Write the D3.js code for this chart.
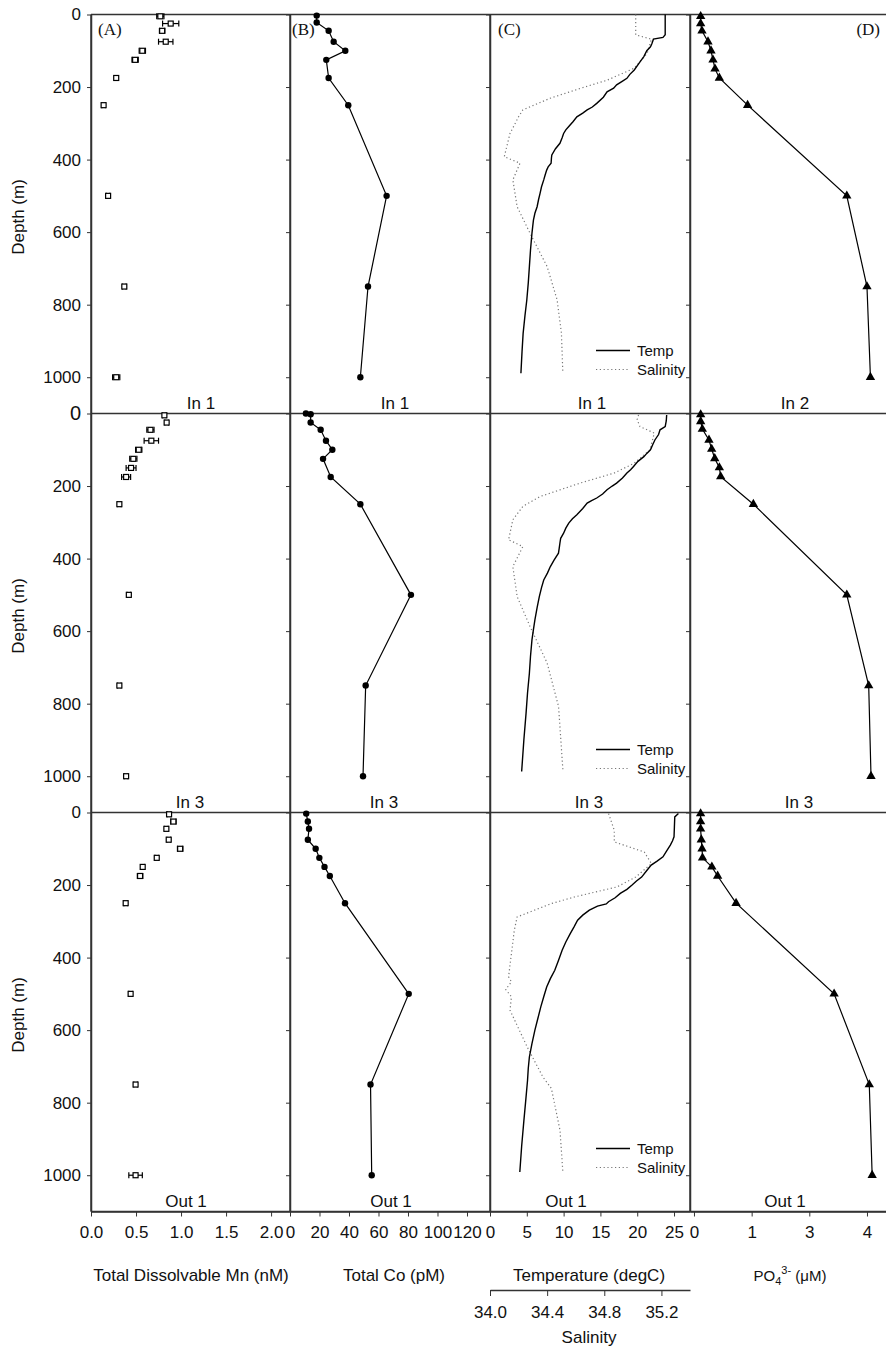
<!DOCTYPE html>
<html><head><meta charset="utf-8">
<script src="https://cdn.jsdelivr.net/npm/d3@7"></script>
<style>
html,body{margin:0;padding:0;background:#fff;}
svg text{font-family:"Liberation Sans",Arial,sans-serif;fill:#111;}
</style></head>
<body><svg id="c" width="886" height="1351"></svg>
<script>
// ---------------- DATA ----------------
const depthTicks = [0, 200, 400, 600, 800, 1000];
const mnTicks = [0, 0.5, 1.0, 1.5, 2.0];
const coTicks = [0, 20, 40, 60, 80, 100, 120];
const tempTicks = [0, 5, 10, 15, 20, 25];
const salTicks = [34.0, 34.4, 34.8, 35.2];
const po4TickPos = [0, 1, 2, 3];
const po4TickLabels = ["0", "1", "3", "4"];
const panelLetters = ["(A)", "(B)", "(C)", "(D)"];
const stationLabels = [
  ["In 1", "In 1", "In 1", "In 2"],
  ["In 3", "In 3", "In 3", "In 3"],
  ["Out 1", "Out 1", "Out 1", "Out 1"]
];
const xTitles = ["Total Dissolvable Mn (nM)", "Total Co (pM)", "Temperature (degC)"];
const legendLabels = ["Temp", "Salinity"];

// Panel A: Total dissolvable Mn (nM), value and +/- error
const mnDepth1 = [5, 25, 45, 75, 100, 125, 175, 250, 500, 750, 1000];
const mnIn1    = [0.77, 0.885, 0.79, 0.83, 0.57, 0.49, 0.28, 0.14, 0.19, 0.37, 0.28];
const mnErrIn1 = [0.04, 0.09, 0.03, 0.08, 0.035, 0.035, 0.02, 0.02, 0.02, 0.02, 0.04];
const mnDepth2 = [5, 25, 45, 75, 100, 125, 150, 175, 250, 500, 750, 1000];
const mnIn3    = [0.815, 0.84, 0.66, 0.67, 0.53, 0.47, 0.445, 0.39, 0.315, 0.42, 0.315, 0.39];
const mnErrIn3 = [0.02, 0.02, 0.04, 0.08, 0.035, 0.04, 0.055, 0.05, 0.02, 0.02, 0.02, 0.02];
const mnDepth3 = [5, 25, 45, 75, 100, 125, 150, 175, 250, 500, 750, 1000];
const mnOut1   = [0.867, 0.915, 0.837, 0.863, 0.99, 0.73, 0.574, 0.545, 0.385, 0.44, 0.495, 0.495];
const mnErrOut1= [0.02, 0.03, 0.02, 0.02, 0.03, 0.02, 0.02, 0.03, 0.02, 0.02, 0.02, 0.075];

// Panel B: Total Co (pM)
const coDepth1 = [3, 22, 45, 75, 100, 125, 175, 250, 500, 750, 1000];
const coIn1    = [18.1, 18.1, 26.2, 29.6, 37.5, 24.6, 26.2, 39.5, 65.5, 52.9, 47.7];
const coDepth2 = [0, 2, 25, 45, 75, 100, 125, 175, 250, 500, 750, 1000];
const coIn3    = [10.8, 14.0, 14.0, 20.8, 24.4, 28.7, 22.4, 27.6, 47.7, 82, 51.3, 49.5];
const coDepth3 = [3, 25, 45, 75, 100, 125, 150, 175, 250, 500, 750, 1000];
const coOut1   = [11, 12.1, 12.9, 12.1, 17.4, 19.9, 23.4, 27, 37.3, 80.5, 54.6, 55.4];

// Panel C: CTD temperature (degC) and salinity profiles, [depth, value]
const tempIn1 = [[0,23.8],[56,23.8],[63,23.5],[68,22.2],[80,22.0],[89,21.8],[100,21.3],[116,20.9],[130,20.4],[153,19.6],[165,19.0],[176,18.6],[185,17.9],[194,17.2],[203,16.8],[213,15.9],[228,15.4],[245,14.5],[255,13.9],[263,13.2],[272,12.6],[282,11.8],[295,11.3],[309,10.7],[318,10.3],[328,10.0],[340,9.8],[355,9.5],[370,8.9],[387,8.4],[395,8.35],[410,8.3],[420,7.9],[429,7.7],[442,7.5],[456,7.3],[475,7.0],[493,6.8],[510,6.6],[530,6.4],[548,6.1],[567,5.9],[585,5.8],[603,5.7],[650,5.5],[695,5.35],[740,5.2],[787,5.0],[830,4.75],[879,4.5],[930,4.35],[989,4.2]];
const salIn1 = [[0,35.02],[56,35.02],[68,35.13],[107,35.10],[148,35.01],[181,34.82],[204,34.63],[231,34.42],[263,34.23],[282,34.20],[328,34.14],[392,34.10],[410,34.21],[456,34.16],[530,34.19],[603,34.28],[695,34.40],[787,34.47],[879,34.50],[989,34.51]];
const tempIn3 = [[4,24.0],[20,23.95],[36,23.8],[45,23.1],[58,22.9],[73,22.4],[86,22.1],[100,21.8],[110,21.3],[119,20.9],[132,20.1],[146,19.5],[155,19.1],[164,18.6],[178,18.0],[192,17.2],[200,16.6],[210,15.9],[222,15.3],[233,14.5],[240,13.8],[247,13.2],[262,12.6],[279,11.8],[290,11.2],[302,10.7],[316,10.3],[330,10.0],[344,9.6],[357,9.5],[372,9.4],[385,9.3],[404,8.7],[422,8.2],[440,7.8],[459,7.3],[480,7.0],[505,6.7],[535,6.4],[569,6.1],[596,5.9],[624,5.7],[670,5.5],[716,5.35],[770,5.1],[826,4.9],[900,4.6],[987,4.3]];
const salIn3 = [[4,35.04],[17,35.03],[36,35.05],[54,35.15],[100,35.12],[137,35.01],[164,34.87],[192,34.63],[229,34.35],[256,34.23],[293,34.16],[348,34.13],[367,34.23],[422,34.16],[505,34.19],[587,34.28],[688,34.40],[808,34.48],[982,34.51]];
const tempOut1 = [[3,25.6],[12,25.1],[40,25.05],[67,25.0],[78,24.8],[90,24.5],[106,24.0],[122,23.5],[134,22.7],[145,21.9],[160,21.3],[178,20.6],[189,19.9],[200,19.3],[212,18.6],[223,17.7],[235,17.0],[246,16.1],[252,15.8],[258,14.6],[269,13.5],[283,12.6],[297,11.9],[316,11.4],[334,10.9],[357,10.3],[380,9.8],[408,9.3],[435,8.8],[458,8.2],[481,7.7],[508,7.3],[536,6.9],[568,6.5],[600,6.1],[637,5.7],[674,5.35],[705,5.2],[738,5.1],[795,4.85],[850,4.6],[920,4.3],[991,4.05]];
const salOut1 = [[3,34.83],[49,34.87],[81,34.87],[109,35.08],[141,35.13],[178,35.02],[205,34.89],[233,34.59],[251,34.43],[288,34.19],[325,34.17],[389,34.15],[453,34.13],[467,34.15],[488,34.11],[508,34.15],[545,34.14],[646,34.26],[729,34.37],[761,34.43],[876,34.49],[991,34.51]];

// Panel D: PO4 (axis units of the printed tick positions)
const poDepth1 = [5, 25, 45, 75, 100, 125, 150, 175, 250, 500, 750, 1000];
const poIn2    = [0.116, 0.116, 0.139, 0.243, 0.295, 0.33, 0.365, 0.44, 0.93, 2.65, 3.0, 3.06];
const poDepth2 = [3, 22, 43, 73, 98, 124, 149, 174, 250, 500, 750, 1000];
const poIn3    = [0.116, 0.116, 0.145, 0.26, 0.307, 0.36, 0.44, 0.463, 1.03, 2.65, 3.03, 3.07];
const poDepth3 = [3, 25, 45, 75, 100, 125, 150, 175, 250, 500, 750, 1000];
const poOut1   = [0.115, 0.115, 0.115, 0.127, 0.14, 0.148, 0.31, 0.41, 0.73, 2.43, 3.04, 3.09];

// ---------------- LAYOUT ----------------
const colX = [91, 290, 490, 690, 886];
const rowY = [14.5, 413.5, 812.5, 1211.5];
const FS = 17;
const frameColor = "#333";
const labelX = [[201, 395, 592, 795], [190, 384, 589, 799], [186, 391, 566, 785]];

const svg = d3.select("#c");

const xMn = d3.scaleLinear().domain([0, 2.21]).range([colX[0], colX[1]]);
const xCo = d3.scaleLinear().domain([0, 135.6]).range([colX[1], colX[2]]);
const xT = d3.scaleLinear().domain([0, 27.17]).range([colX[2], colX[3]]);
const xS = d3.scaleLinear().domain([34.0, 35.4]).range([colX[2], colX[3]]);
const xP = d3.scaleLinear().domain([-0.069, 3.33]).range([colX[3], colX[4]]);
const yS = [0, 1, 2].map(i => d3.scaleLinear().domain([0, 1100]).range([rowY[i], rowY[i + 1]]));

const mnSets = [[mnDepth1, mnIn1, mnErrIn1], [mnDepth2, mnIn3, mnErrIn3], [mnDepth3, mnOut1, mnErrOut1]];
const coSets = [[coDepth1, coIn1], [coDepth2, coIn3], [coDepth3, coOut1]];
const ctdSets = [[tempIn1, salIn1], [tempIn3, salIn3], [tempOut1, salOut1]];
const poSets = [[poDepth1, poIn2], [poDepth2, poIn3], [poDepth3, poOut1]];

function styleAxis(g) {
  g.selectAll("path.domain").attr("stroke", frameColor).attr("stroke-width", 1.5);
  g.selectAll(".tick line").attr("stroke", frameColor).attr("stroke-width", 1);
  g.selectAll(".tick text").attr("font-size", FS).attr("font-family", "Liberation Sans, Arial, sans-serif").attr("fill", "#111");
}

// Y axes (each panel has a left axis)
for (let r = 0; r < 3; r++) {
  for (let c = 0; c < 4; c++) {
    const ax = d3.axisLeft(yS[r]).tickValues(depthTicks).tickFormat(d3.format("d")).tickSize(4).tickSizeOuter(0).tickPadding(6);
    if (c > 0) ax.tickFormat("");
    const g = svg.append("g").attr("transform", `translate(${colX[c]},0)`).call(ax);
    styleAxis(g);
    if (c === 0 && r === 1) {
      g.selectAll(".tick text").filter(d => d === 0).attr("font-size", 20);
    }
  }
  // horizontal row top line
  svg.append("line").attr("x1", colX[0]).attr("x2", colX[4]).attr("y1", rowY[r]).attr("y2", rowY[r])
    .attr("stroke", frameColor).attr("stroke-width", 1.5);
  // Depth label
  svg.append("text").attr("transform", `translate(24,${(rowY[r] + rowY[r + 1]) / 2 + 3}) rotate(-90)`)
    .attr("text-anchor", "middle").attr("font-size", FS).text("Depth (m)");
  // station labels
  for (let c = 0; c < 4; c++) {
    svg.append("text").attr("x", labelX[r][c]).attr("y", rowY[r + 1] - 4.5)
      .attr("text-anchor", "middle").attr("font-size", FS).text(stationLabels[r][c]);
  }
}

// Bottom x axes
const yB = rowY[3];
[[xMn, mnTicks, d3.format(".1f")], [xCo, coTicks, d3.format("d")], [xT, tempTicks, d3.format("d")]].forEach(([sc, tv, f]) => {
  const g = svg.append("g").attr("transform", `translate(0,${yB})`)
    .call(d3.axisBottom(sc).tickValues(tv).tickFormat(f).tickSize(5).tickSizeOuter(0).tickPadding(9));
  styleAxis(g);
});
{
  const g = svg.append("g").attr("transform", `translate(0,${yB})`)
    .call(d3.axisBottom(xP).tickValues(po4TickPos).tickFormat((d, i) => po4TickLabels[i]).tickSize(5).tickSizeOuter(0).tickPadding(9));
  styleAxis(g);
  const g2 = svg.append("g").attr("transform", `translate(0,1290)`)
    .call(d3.axisBottom(xS).tickValues(salTicks).tickFormat(d3.format(".1f")).tickSize(6).tickSizeOuter(0).tickPadding(10));
  styleAxis(g2);
}
// x axis titles
const titleX = [191, 394, 589];
xTitles.forEach((t, i) => {
  svg.append("text").attr("x", titleX[i]).attr("y", 1281).attr("text-anchor", "middle").attr("font-size", FS).text(t);
});
{
  const t = svg.append("text").attr("x", 790).attr("y", 1281).attr("text-anchor", "middle").attr("font-size", 15);
  t.append("tspan").text("PO");
  t.append("tspan").attr("font-size", 11).attr("dy", 4).text("4");
  t.append("tspan").attr("font-size", 11).attr("dy", -11).text("3-");
  t.append("tspan").attr("dy", 7).text(" (\u03bcM)");
}
svg.append("text").attr("x", 589).attr("y", 1343).attr("text-anchor", "middle").attr("font-size", FS).text("Salinity");

// panel letters
const letterPos = [[98, "start"], [292, "start"], [498, "start"], [880, "end"]];
panelLetters.forEach((t, i) => {
  svg.append("text").attr("x", letterPos[i][0]).attr("y", 35).attr("text-anchor", letterPos[i][1])
    .attr("font-size", 17).style("font-family", "Liberation Serif, Times New Roman, serif").text(t);
});

// ---------------- MARKS ----------------
for (let r = 0; r < 3; r++) {
  const y = yS[r];
  // Mn
  const [md, mv, me] = mnSets[r];
  const gMn = svg.append("g");
  md.forEach((d, i) => {
    const cy = y(d), x0 = xMn(mv[i] - me[i]), x1 = xMn(mv[i] + me[i]);
    gMn.append("line").attr("x1", x0).attr("x2", x1).attr("y1", cy).attr("y2", cy).attr("stroke", "#000").attr("stroke-width", 1.2);
    [x0, x1].forEach(xx => gMn.append("line").attr("x1", xx).attr("x2", xx).attr("y1", cy - 3).attr("y2", cy + 3).attr("stroke", "#000").attr("stroke-width", 1.2));
    gMn.append("rect").attr("x", xMn(mv[i]) - 2.5).attr("y", cy - 2.5).attr("width", 5).attr("height", 5)
      .attr("fill", "#fff").attr("stroke", "#000").attr("stroke-width", 1.2);
  });
  // Co
  const [cd, cv] = coSets[r];
  const coPts = cd.map((d, i) => [xCo(cv[i]), y(d)]);
  svg.append("path").attr("d", d3.line()(coPts)).attr("fill", "none").attr("stroke", "#000").attr("stroke-width", 1.2);
  svg.append("g").selectAll("circle").data(coPts).join("circle")
    .attr("cx", p => p[0]).attr("cy", p => p[1]).attr("r", 3.2).attr("fill", "#000");
  // CTD
  const [tp, sp] = ctdSets[r];
  svg.append("path").attr("d", d3.line().x(p => xS(p[1])).y(p => y(p[0]))(sp))
    .attr("fill", "none").attr("stroke", "#777").attr("stroke-width", 1.2).attr("stroke-dasharray", "1.2,2.6");
  svg.append("path").attr("d", d3.line().x(p => xT(p[1])).y(p => y(p[0]))(tp))
    .attr("fill", "none").attr("stroke", "#000").attr("stroke-width", 1.4);
  // legend
  const ly = rowY[r] + 336;
  svg.append("line").attr("x1", 596).attr("x2", 630).attr("y1", ly).attr("y2", ly).attr("stroke", "#000").attr("stroke-width", 1.3);
  svg.append("line").attr("x1", 596).attr("x2", 630).attr("y1", ly + 19).attr("y2", ly + 19).attr("stroke", "#777").attr("stroke-width", 1.2).attr("stroke-dasharray", "1.2,2.6");
  svg.append("text").attr("x", 637).attr("y", ly + 5).attr("font-size", 15).text(legendLabels[0]);
  svg.append("text").attr("x", 637).attr("y", ly + 24).attr("font-size", 15).text(legendLabels[1]);
  // PO4
  const [pd, pv] = poSets[r];
  const poPts = pd.map((d, i) => [xP(pv[i]), y(d)]);
  svg.append("path").attr("d", d3.line()(poPts)).attr("fill", "none").attr("stroke", "#000").attr("stroke-width", 1.2);
  svg.append("g").selectAll("path").data(poPts).join("path")
    .attr("d", d3.symbol(d3.symbolTriangle, 38)).attr("transform", p => `translate(${p[0]},${p[1]})`).attr("fill", "#000");
}
// vertical frame lines over full height
colX.slice(0, 4).forEach(x => {
  svg.append("line").attr("x1", x).attr("x2", x).attr("y1", rowY[0]).attr("y2", rowY[3]).attr("stroke", frameColor).attr("stroke-width", 1.5);
});
svg.append("line").attr("x1", colX[0]).attr("x2", colX[4]).attr("y1", rowY[3]).attr("y2", rowY[3]).attr("stroke", frameColor).attr("stroke-width", 1.5);
</script></body></html>
